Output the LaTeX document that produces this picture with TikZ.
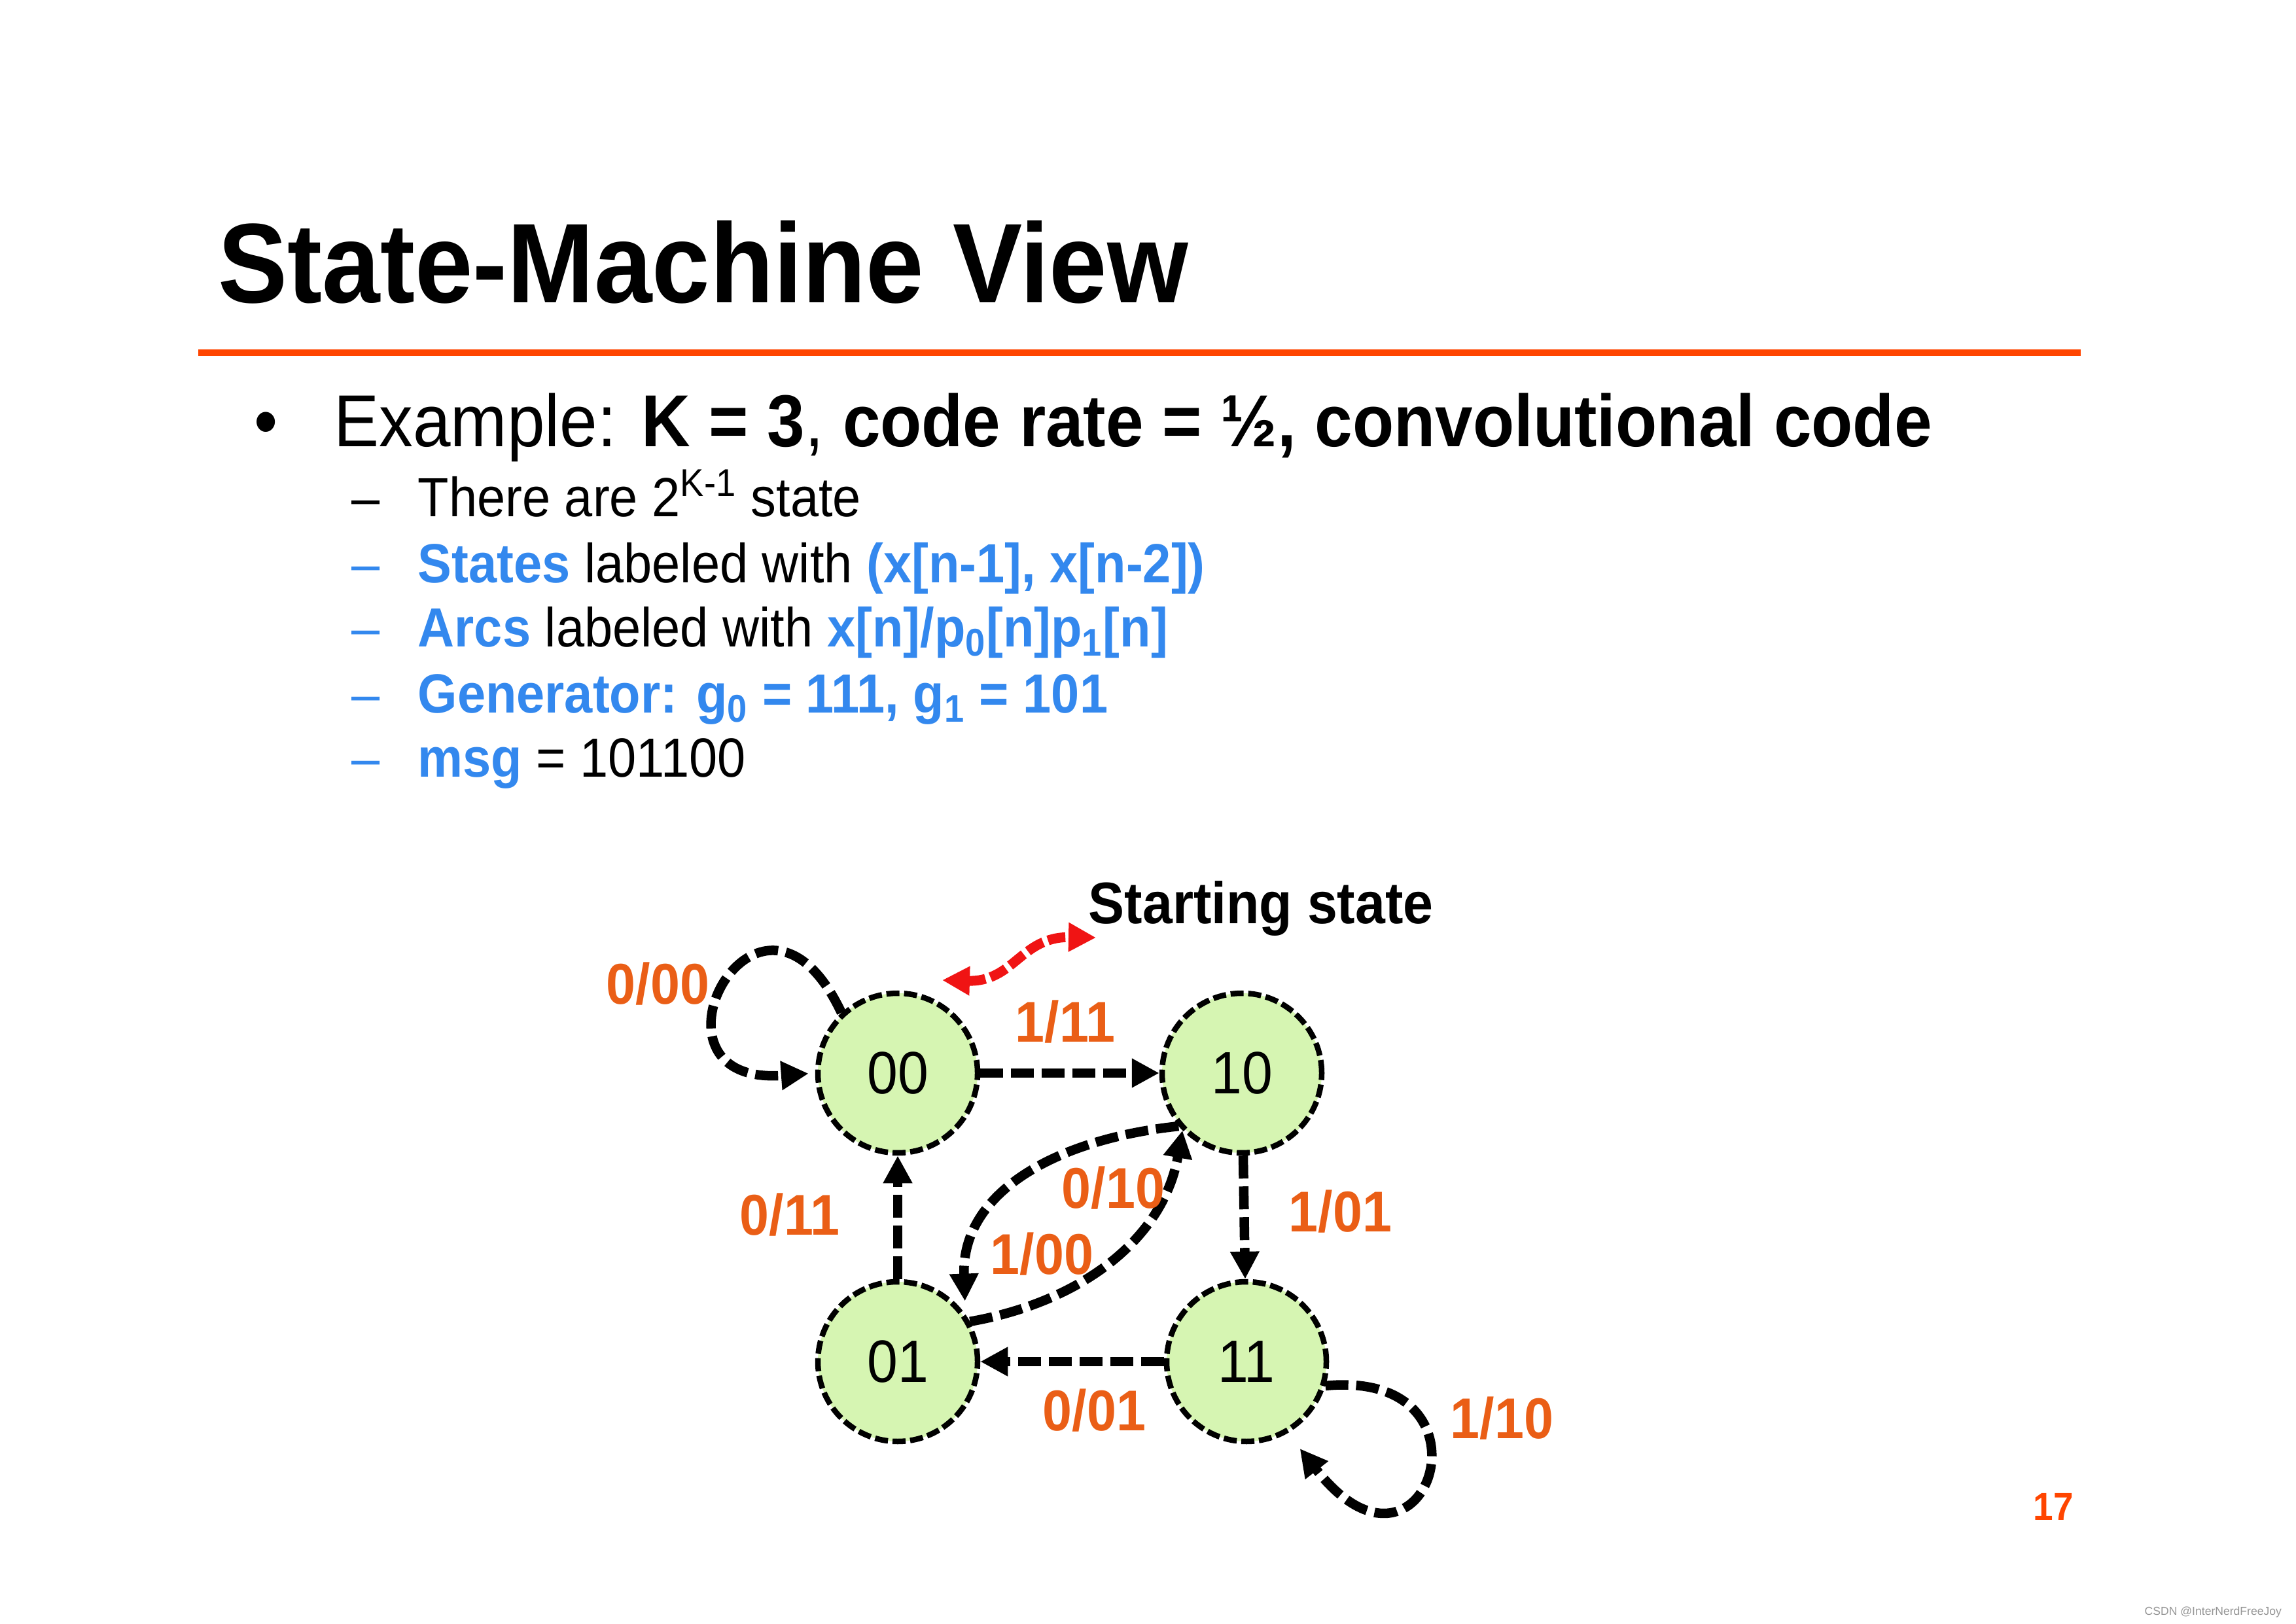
\documentclass[tikz,border=0pt]{standalone}
\usepackage{fontspec}
\setmainfont{Liberation Sans}[FakeStretch=0.92]
\newfontfamily\wmfont{Liberation Sans}
\usetikzlibrary{arrows.meta}
\definecolor{slideorange}{RGB}{255,69,0}
\definecolor{arcorange}{RGB}{234,94,22}
\definecolor{itemblue}{RGB}{51,136,238}
\definecolor{statefill}{RGB}{214,245,178}
\definecolor{startred}{RGB}{240,20,20}
\definecolor{wmgray}{RGB}{150,150,150}
\newcommand{\sz}[1]{\fontsize{#1}{#1}\selectfont}
\begin{document}
\begin{tikzpicture}[every node/.style={inner sep=0pt},
  state/.style={circle,draw,fill=statefill,minimum size=2.44cm,line width=0.085cm,dash pattern=on 0.2cm off 0.07cm,font={\sz{26pt}}},
  arc/.style={line width=0.145cm,dash pattern=on 0.35cm off 0.12cm,-{Triangle[length=0.42cm,width=0.42cm]}},
  arclabel/.style={anchor=base west,text=arcorange,font={\bfseries\sz{25pt}}},
  item/.style={anchor=base west,font={\sz{24pt}}},
  itemdash/.style={anchor=base,font={\sz{24pt}}}]
  \fill[white] (0,0) rectangle (35.09,24.81);
  \useasboundingbox (0,0) rectangle (35.09,24.81);

  % Title
  \node[anchor=base west,font={\bfseries\sz{49.2pt}}] (title) at (3.33,20.18) {State-Machine View};
  \draw[slideorange,line width=0.1cm] (3.03,19.42) -- (31.80,19.42);

  % Bullets
  \node[anchor=base,font={\sz{32pt}}] (bul) at (4.07,17.98) {•};
  \node[anchor=base west,font={\sz{32pt}}] (ex) at (5.10,17.98) {Example: \textbf{K = 3}, \textbf{code rate = ½, convolutional code}};

  \node[itemdash] (d1) at (5.59,16.91) {–};
  \node[item] (t1) at (6.38,16.91) {There are 2\textsuperscript{K-1} state};
  \node[itemdash,text=itemblue] (d2) at (5.59,15.90) {–};
  \node[item] (t2) at (6.38,15.90) {\textbf{\color{itemblue}States} labeled with \textbf{\color{itemblue}(x[n-1], x[n-2])}};
  \node[itemdash,text=itemblue] (d3) at (5.59,14.92) {–};
  \node[item] (t3) at (6.38,14.92) {\textbf{\color{itemblue}Arcs} labeled with \textbf{\color{itemblue}x[n]/p\textsubscript{0}[n]p\textsubscript{1}[n]}};
  \node[itemdash,text=itemblue] (d4) at (5.59,13.91) {–};
  \node[item,text=itemblue] (t4) at (6.38,13.91) {\bfseries Generator: g\textsubscript{0} = 111, g\textsubscript{1} = 101};
  \node[itemdash,text=itemblue] (d5) at (5.59,12.93) {–};
  \node[item] (t5) at (6.38,12.93) {\textbf{\color{itemblue}msg} = 101100};

  % States
  \node[state] (s00) at (13.72,8.41) {00};
  \node[state] (s10) at (18.98,8.41) {10};
  \node[state] (s01) at (13.72,4.00) {01};
  \node[state] (s11) at (19.05,4.00) {11};

  \draw[arc] (s00) -- (s10);
  \draw[arc] (s10) -- (s11);
  \draw[arc] (s11) -- (s01);
  \draw[arc] (s01) -- (s00);
  \draw[arc,shorten >=0.2cm] (s10.220) to[out=186,in=92,looseness=1.1] (s01.35);
  \draw[arc] (s01.29) to[out=10,in=260] (s10.224);
  \draw[arc,shorten >=0.1cm] (s00.133) .. controls (11.6,12.0) and (9.6,8.2) .. (s00.west);
  \draw[arc,shorten >=0.3cm] (s11.-17) .. controls (23.0,3.9) and (21.8,0.2) .. (s11.-60);

  \node[arclabel] (l0000) at (9.26,9.46) {0/00};
  \node[arclabel] (l1011) at (15.51,8.88) {1/11};
  \node[arclabel] (l0111) at (11.30,5.94) {0/11};
  \node[arclabel] (l1001) at (16.22,6.35) {0/10};
  \node[arclabel] (l0110) at (15.13,5.34) {1/00};
  \node[arclabel] (l1011b) at (19.69,5.99) {1/01};
  \node[arclabel] (l1101) at (15.93,2.95) {0/01};
  \node[arclabel] (l1111) at (22.16,2.83) {1/10};

  % Starting state
  \coordinate (startL) at (14.40,9.83);
  \coordinate (startR) at (16.75,10.48);
  \draw[startred,line width=0.15cm,dash pattern=on 0.27cm off 0.08cm,{Triangle[length=0.42cm,width=0.42cm]}-{Triangle[length=0.42cm,width=0.42cm]}] (startL) .. controls (15.5,9.8) and (15.6,10.5) .. (startR);
  \node[anchor=base west,font={\bfseries\sz{25.5pt}}] (starttxt) at (16.63,10.69) {Starting state};

  \node[anchor=base west,text=slideorange,font={\bfseries\sz{17pt}}] (pgnum) at (31.07,1.58) {17};
  \node[anchor=base west,text=wmgray,font={\wmfont\sz{5pt}}] (wm) at (32.77,0.13) {CSDN @InterNerdFreeJoy};
\end{tikzpicture}
\end{document}
